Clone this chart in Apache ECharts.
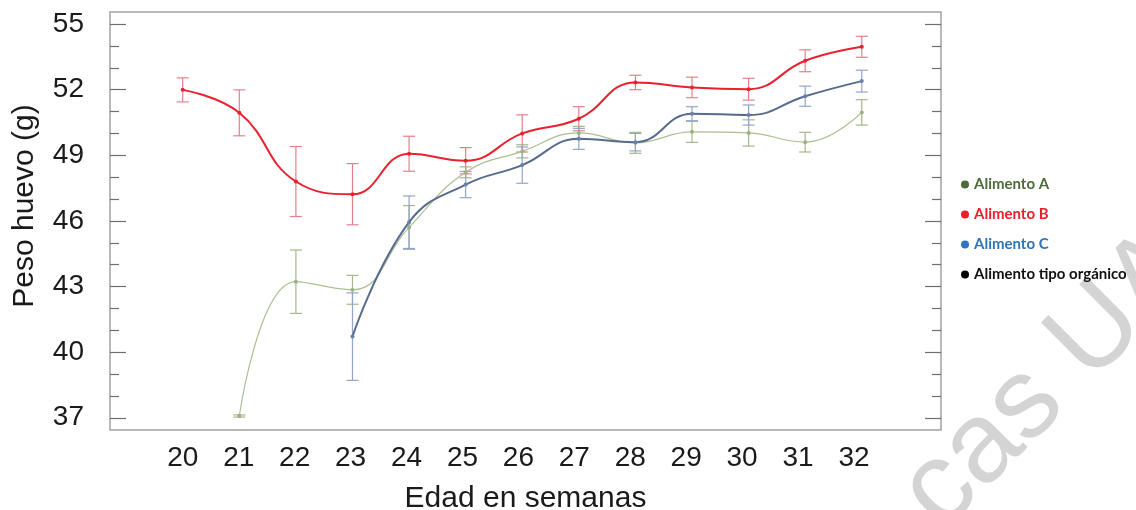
<!DOCTYPE html>
<html>
<head>
<meta charset="utf-8">
<script src="https://cdn.jsdelivr.net/npm/echarts@6/dist/echarts.min.js"></script>
<style>
html,body{margin:0;padding:0;background:#fff;}
#chart{width:1136px;height:510px;}
</style>
</head>
<body>
<div id="chart"></div>
<script>
// ---- data ----
var weeks = [20, 21, 22, 23, 24, 25, 26, 27, 28, 29, 30, 31, 32];
var meanA = [null, 37.08, 43.22, 42.85, 45.70, 48.22, 49.18, 50.02, 49.57, 50.07, 50.02, 49.60, 50.96];
var errA  = [null, 0.05, 1.45, 0.66, 1.00, 0.25, 0.30, 0.30, 0.48, 0.48, 0.60, 0.45, 0.58];
var meanB = [51.99, 50.94, 47.80, 47.22, 49.07, 48.75, 50.00, 50.67, 52.33, 52.10, 52.02, 53.32, 53.96];
var errB  = [0.55, 1.05, 1.60, 1.40, 0.80, 0.60, 0.85, 0.55, 0.33, 0.47, 0.50, 0.50, 0.48];
var meanC = [null, null, null, 40.71, 45.94, 47.66, 48.55, 49.75, 49.60, 50.90, 50.84, 51.70, 52.39];
var errC  = [null, null, null, 2.00, 1.20, 0.60, 0.83, 0.48, 0.40, 0.32, 0.46, 0.46, 0.50];
var meanOrg = [];
var xTickLabels = [20, 21, 22, 23, 24, 25, 26, 27, 28, 29, 30, 31, 32];
var yMajorTicks = [37, 40, 43, 46, 49, 52, 55];
var yMinorTicks = [38, 39, 41, 42, 44, 45, 47, 48, 50, 51, 53, 54];
var seriesNames = ['Alimento A', 'Alimento B', 'Alimento C', 'Alimento tipo orgánico'];

function pts(mean) {
  var out = [];
  for (var i = 0; i < weeks.length; i++) if (mean[i] != null) out.push([weeks[i], mean[i]]);
  return out;
}
function errPts(mean, err) {
  var out = [];
  for (var i = 0; i < weeks.length; i++) if (mean[i] != null) out.push([weeks[i], mean[i] - err[i], mean[i] + err[i]]);
  return out;
}
function errSeries(name, mean, err, color) {
  return {
    name: name, type: 'custom', xAxisIndex: 0, yAxisIndex: 0, z: 1,
    data: errPts(mean, err),
    renderItem: function (params, api) {
      var x = api.value(0);
      var lo = api.coord([x, api.value(1)]);
      var hi = api.coord([x, api.value(2)]);
      var cap = 6;
      var st = { stroke: color, lineWidth: 1.2 };
      return {
        type: 'group',
        children: [
          { type: 'line', shape: { x1: lo[0], y1: lo[1], x2: hi[0], y2: hi[1] }, style: st },
          { type: 'line', shape: { x1: lo[0] - cap, y1: lo[1], x2: lo[0] + cap, y2: lo[1] }, style: st },
          { type: 'line', shape: { x1: hi[0] - cap, y1: hi[1], x2: hi[0] + cap, y2: hi[1] }, style: st }
        ]
      };
    }
  };
}

var chart = echarts.init(document.getElementById('chart'), null, { renderer: 'canvas' });
var FONT = 'Liberation Sans';
var tickColor = '#6e6e6e';
var yMin = 36.44, yMax = 55.55;

function yAx(pos, ticks, len, labels) {
  return {
    type: 'value', position: pos, min: yMin, max: yMax,
    axisLine: { show: false },
    splitLine: { show: false },
    axisTick: { show: true, inside: true, length: len, customValues: ticks, lineStyle: { color: tickColor, width: 1.2 } },
    axisLabel: labels ? { show: true, customValues: yMajorTicks, fontSize: 28, fontFamily: FONT, color: '#1a1a1a', margin: 26 } : { show: false }
  };
}

var yLeft = yAx('left', yMajorTicks, 16, true);
yLeft.name = 'Peso huevo (g)';
yLeft.nameLocation = 'middle';
yLeft.nameGap = 70;
yLeft.nameTextStyle = { fontSize: 30, fontFamily: FONT, color: '#1a1a1a', padding: [0, 0, 0, 30] };

var option = {
  backgroundColor: '#ffffff',
  animation: false,
  grid: { left: 110, top: 12, width: 831, height: 418, show: true, borderColor: '#a3a3a3', borderWidth: 1.5,
          containLabel: false, outerBoundsMode: 'none' },
  xAxis: [
    { type: 'value', min: 18.715, max: 33.40, axisLine: { show: false }, axisTick: { show: false }, axisLabel: { show: false }, splitLine: { show: false } },
    { type: 'value', position: 'bottom', min: 18.698, max: 33.556,
      axisLine: { show: false }, axisTick: { show: false }, splitLine: { show: false },
      axisLabel: { show: true, customValues: xTickLabels, fontSize: 28, fontFamily: FONT, color: '#1a1a1a', margin: 14 },
      name: 'Edad en semanas', nameLocation: 'middle', nameGap: 54,
      nameTextStyle: { fontSize: 30, fontFamily: FONT, color: '#1a1a1a' } }
  ],
  yAxis: [
    yLeft,
    yAx('left', yMinorTicks, 9, false),
    yAx('right', yMajorTicks, 16, false),
    yAx('right', yMinorTicks, 9, false)
  ],
  legend: {
    orient: 'vertical', left: 956, top: 172, itemGap: 15,
    icon: 'circle', itemWidth: 8, itemHeight: 8,
    textStyle: { fontFamily: 'Lato', fontWeight: 'bold', fontSize: 15 },
    data: [
      { name: seriesNames[0], itemStyle: { color: '#4e6a39' }, textStyle: { color: '#4e6a39' } },
      { name: seriesNames[1], itemStyle: { color: '#ee1d27' }, textStyle: { color: '#e8202a' } },
      { name: seriesNames[2], itemStyle: { color: '#2f75c1' }, textStyle: { color: '#2e74b7' } },
      { name: seriesNames[3], itemStyle: { color: '#000000' }, textStyle: { color: '#111111' } }
    ]
  },
  graphic: [
    { type: 'text', z: -10, x: 1050, y: 380, rotation: Math.PI / 4,
      style: { text: 'cas UA', font: '114px "Liberation Sans"', fill: '#d4d4d4', textAlign: 'center', textVerticalAlign: 'middle' } }
  ],
  series: [
    errSeries('errA', meanA, errA, '#a2b88b'),
    errSeries('errB', meanB, errB, '#e5808b'),
    errSeries('errC', meanC, errC, '#93a4cc'),
    { name: seriesNames[0], type: 'line', xAxisIndex: 0, yAxisIndex: 0, z: 3, smooth: 0.45,
      data: pts(meanA), color: '#aabf93', lineStyle: { width: 1.2, color: '#aabf93' },
      symbol: 'circle', symbolSize: 4, itemStyle: { color: '#9bb281' } },
    { name: seriesNames[1], type: 'line', xAxisIndex: 0, yAxisIndex: 0, z: 4, smooth: 0.45,
      data: pts(meanB), color: '#e8212e', lineStyle: { width: 2, color: '#e8212e' },
      symbol: 'circle', symbolSize: 4, itemStyle: { color: '#e8212e' } },
    { name: seriesNames[2], type: 'line', xAxisIndex: 0, yAxisIndex: 0, z: 3, smooth: 0.45,
      data: pts(meanC), color: '#586b8d', lineStyle: { width: 2, color: '#586b8d' },
      symbol: 'circle', symbolSize: 4, itemStyle: { color: '#6a7fa6' } },
    { name: seriesNames[3], type: 'line', xAxisIndex: 0, yAxisIndex: 0, data: pts(meanOrg), color: '#000000' }
  ]
};
chart.setOption(option);
</script>
</body>
</html>
